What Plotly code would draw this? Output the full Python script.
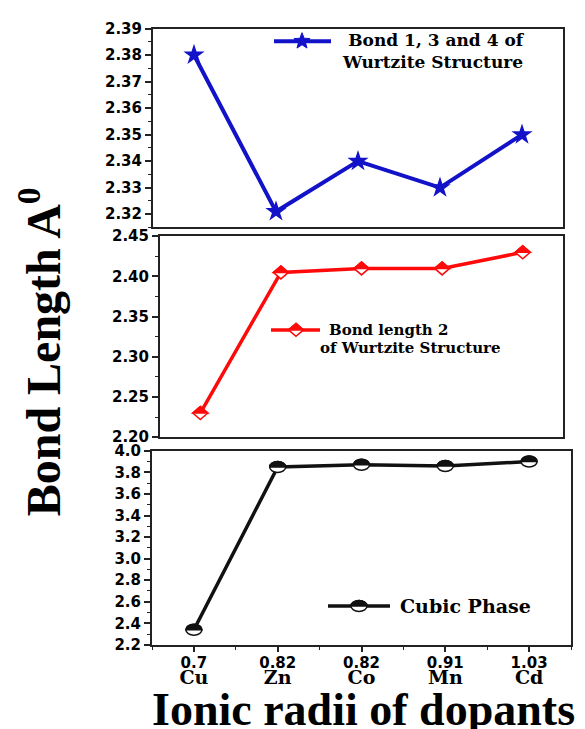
import math
import plotly.graph_objects as go

# ---- data -------------------------------------------------------------
dopants = ["Cu", "Zn", "Co", "Mn", "Cd"]
ionic_radii = ["0.7", "0.82", "0.82", "0.91", "1.03"]
bond_134 = [2.380, 2.321, 2.340, 2.330, 2.350]   # Bond 1, 3 and 4 (wurtzite)
bond_2 = [2.230, 2.405, 2.410, 2.410, 2.430]     # Bond length 2 (wurtzite)
cubic = [2.34, 3.85, 3.87, 3.86, 3.90]           # cubic phase

# ---- helpers ----------------------------------------------------------
W, H = 585, 729


def px(x):
    return x / W


def py(y):
    return 1 - y / H


def ellipse_path(rx, ry, top_only=False):
    k = 0.5523
    p = (f"M {rx},0 C {rx},{k*ry:.2f} {k*rx:.2f},{ry} 0,{ry} "
         f"C {-k*rx:.2f},{ry} {-rx},{k*ry:.2f} {-rx},0")
    if top_only:
        return p + " Z"
    return p + (f" C {-rx},{-k*ry:.2f} {-k*rx:.2f},{-ry} 0,{-ry} "
                f"C {k*rx:.2f},{-ry} {rx},{-k*ry:.2f} {rx},0 Z")


def diamond_path(w, h, top_only=False):
    if top_only:
        return f"M {-w},0 L 0,{h} L {w},0 Z"
    return f"M 0,{h} L {w},0 L 0,{-h} L {-w},0 Z"


def star_path(ro, ri):
    pts = []
    for k in range(10):
        a = math.pi / 2 + k * math.pi / 5
        r = ro if k % 2 == 0 else ri
        pts.append((r * math.cos(a), r * math.sin(a)))
    return "M " + " L ".join(f"{x:.2f},{y:.2f}" for x, y in pts) + " Z"


def half_filled(shapes, xref, yref, x, y, full, top, color):
    base = dict(type="path", xref=xref, yref=yref, xsizemode="pixel",
                ysizemode="pixel", xanchor=x, yanchor=y, layer="above")
    shapes.append(dict(base, path=full, fillcolor="white",
                       line=dict(color=color, width=1.5)))
    shapes.append(dict(base, path=top, fillcolor=color,
                       line=dict(color=color, width=1.5)))


BLUE = "#1212c8"
RED = "#ff0a0a"
BLACK = "#111111"
FRAME = "#222222"
idx = list(range(len(dopants)))

fig = go.Figure()

fig.add_trace(go.Scatter(
    x=idx, y=bond_134, mode="lines+markers", xaxis="x", yaxis="y",
    line=dict(color=BLUE, width=4),
    marker=dict(symbol="star", size=16, color=BLUE), showlegend=False))
fig.add_trace(go.Scatter(
    x=idx, y=bond_2, mode="lines", xaxis="x2", yaxis="y2",
    line=dict(color=RED, width=3.5), showlegend=False))
fig.add_trace(go.Scatter(
    x=idx, y=cubic, mode="lines", xaxis="x3", yaxis="y3",
    line=dict(color=BLACK, width=3.5), showlegend=False))

shapes = []
dia_full, dia_top = diamond_path(7.5, 6.5), diamond_path(7.5, 6.5, True)
ell_full, ell_top = ellipse_path(8, 5.5), ellipse_path(8, 5.5, True)
for i, v in zip(idx, bond_2):
    half_filled(shapes, "x2", "y2", i, v, dia_full, dia_top, RED)
for i, v in zip(idx, cubic):
    half_filled(shapes, "x3", "y3", i, v, ell_full, ell_top, BLACK)

# legend samples
legend_items = [
    (274, 331, 33, BLUE, 4),
    (271, 320, 329, RED, 3.5),
    (328, 390, 612, BLACK, 3.5),
]
for x0, x1, yy, col, lw in legend_items:
    shapes.append(dict(type="line", xref="paper", yref="paper",
                       x0=px(x0), x1=px(x1), y0=py(yy), y1=py(yy),
                       line=dict(color=col, width=lw), layer="above"))
shapes.append(dict(type="path", xref="paper", yref="paper", xsizemode="pixel",
                   ysizemode="pixel", xanchor=px(302), yanchor=py(33),
                   path=star_path(8.5, 3.6), fillcolor=BLUE,
                   line=dict(color=BLUE, width=1), layer="above"))
half_filled(shapes, "paper", "paper", px(296), py(329), dia_full, dia_top, RED)
half_filled(shapes, "paper", "paper", px(359), py(612), ell_full, ell_top, BLACK)

serif = "DejaVu Serif"
annotations = [
    dict(text="Bond 1, 3 and 4 of<br>Wurtzite Structure", x=px(527), y=py(43),
         xanchor="right", yanchor="middle", align="right",
         font=dict(family=serif, size=17, color="black", weight="bold")),
    dict(text="Bond length 2", x=px(327), y=py(329), xanchor="left",
         yanchor="middle",
         font=dict(family=serif, size=15, color="black", weight="bold")),
    dict(text="of Wurtzite Structure", x=px(318), y=py(348), xanchor="left",
         yanchor="middle",
         font=dict(family=serif, size=15, color="black", weight="bold")),
    dict(text="Cubic Phase", x=px(398), y=py(612), xanchor="left",
         yanchor="middle",
         font=dict(family=serif, size=19, color="black", weight="bold")),
    dict(text="Bond Length A<sup>0</sup>", x=px(40), y=py(352), textangle=-90,
         xanchor="center", yanchor="middle",
         font=dict(family="Liberation Serif", size=48, color="black",
                   weight="bold")),
    dict(text="Ionic radii of dopants", x=px(363), y=py(718),
         xanchor="center", yanchor="middle",
         font=dict(family="Liberation Serif", size=46, color="black",
                   weight="bold")),
]
for a in annotations:
    a.update(xref="paper", yref="paper", showarrow=False)

tick_font = dict(family="DejaVu Sans", size=15, color="black", weight="bold")
frame = dict(showline=True, mirror=True, linewidth=2, linecolor=FRAME,
             showgrid=False, zeroline=False)


def yaxis(domain, rng, first_tick, dtick, fmt, anchor):
    return dict(frame, domain=domain, range=rng, anchor=anchor,
                tick0=first_tick, dtick=dtick, tickformat=fmt,
                tickprefix="<b>", ticksuffix="</b>",
                ticks="outside", ticklen=6, tickwidth=1.5, tickcolor=FRAME,
                tickfont=tick_font,
                minor=dict(ticks="outside", ticklen=3, tickwidth=1.2,
                           tickcolor=FRAME, dtick=dtick / 2, tick0=first_tick))


def xaxis(domain, anchor, labels=False):
    ax = dict(frame, domain=domain, range=[-0.5, len(idx) - 0.5], anchor=anchor)
    if labels:
        ax.update(tickmode="array", tickvals=idx,
                  ticktext=[f"<b><span style='font-size:15px'>{r}</span><br>"
                            f"<span style='font-family:DejaVu Serif;"
                            f"font-size:19px'>{d}</span></b>"
                            for r, d in zip(ionic_radii, dopants)],
                  ticks="outside", ticklen=5, tickwidth=1.5, tickcolor=FRAME,
                  tickfont=dict(tick_font, size=13),
                  minor=dict(ticks="outside", ticklen=3, tickwidth=1.2,
                             tickcolor=FRAME, dtick=0.5, tick0=-0.5))
    else:
        ax.update(ticks="", showticklabels=False)
    return ax


fig.update_layout(
    width=W, height=H, margin=dict(l=0, r=0, t=0, b=0),
    paper_bgcolor="white", plot_bgcolor="white",
    xaxis=xaxis([px(153), px(563)], "y"),
    yaxis=yaxis([py(224), py(20)], [2.315, 2.39], 2.32, 0.01, ".2f", "x"),
    xaxis2=xaxis([px(160), px(563)], "y2"),
    yaxis2=yaxis([py(439), py(233)], [2.20, 2.45], 2.20, 0.05, ".2f", "x2"),
    xaxis3=xaxis([px(152), px(571)], "y3", labels=True),
    yaxis3=yaxis([py(652), py(453)], [2.2, 4.0], 2.2, 0.2, ".1f", "x3"),
    shapes=shapes, annotations=annotations,
)

fig.write_html("out.html")
